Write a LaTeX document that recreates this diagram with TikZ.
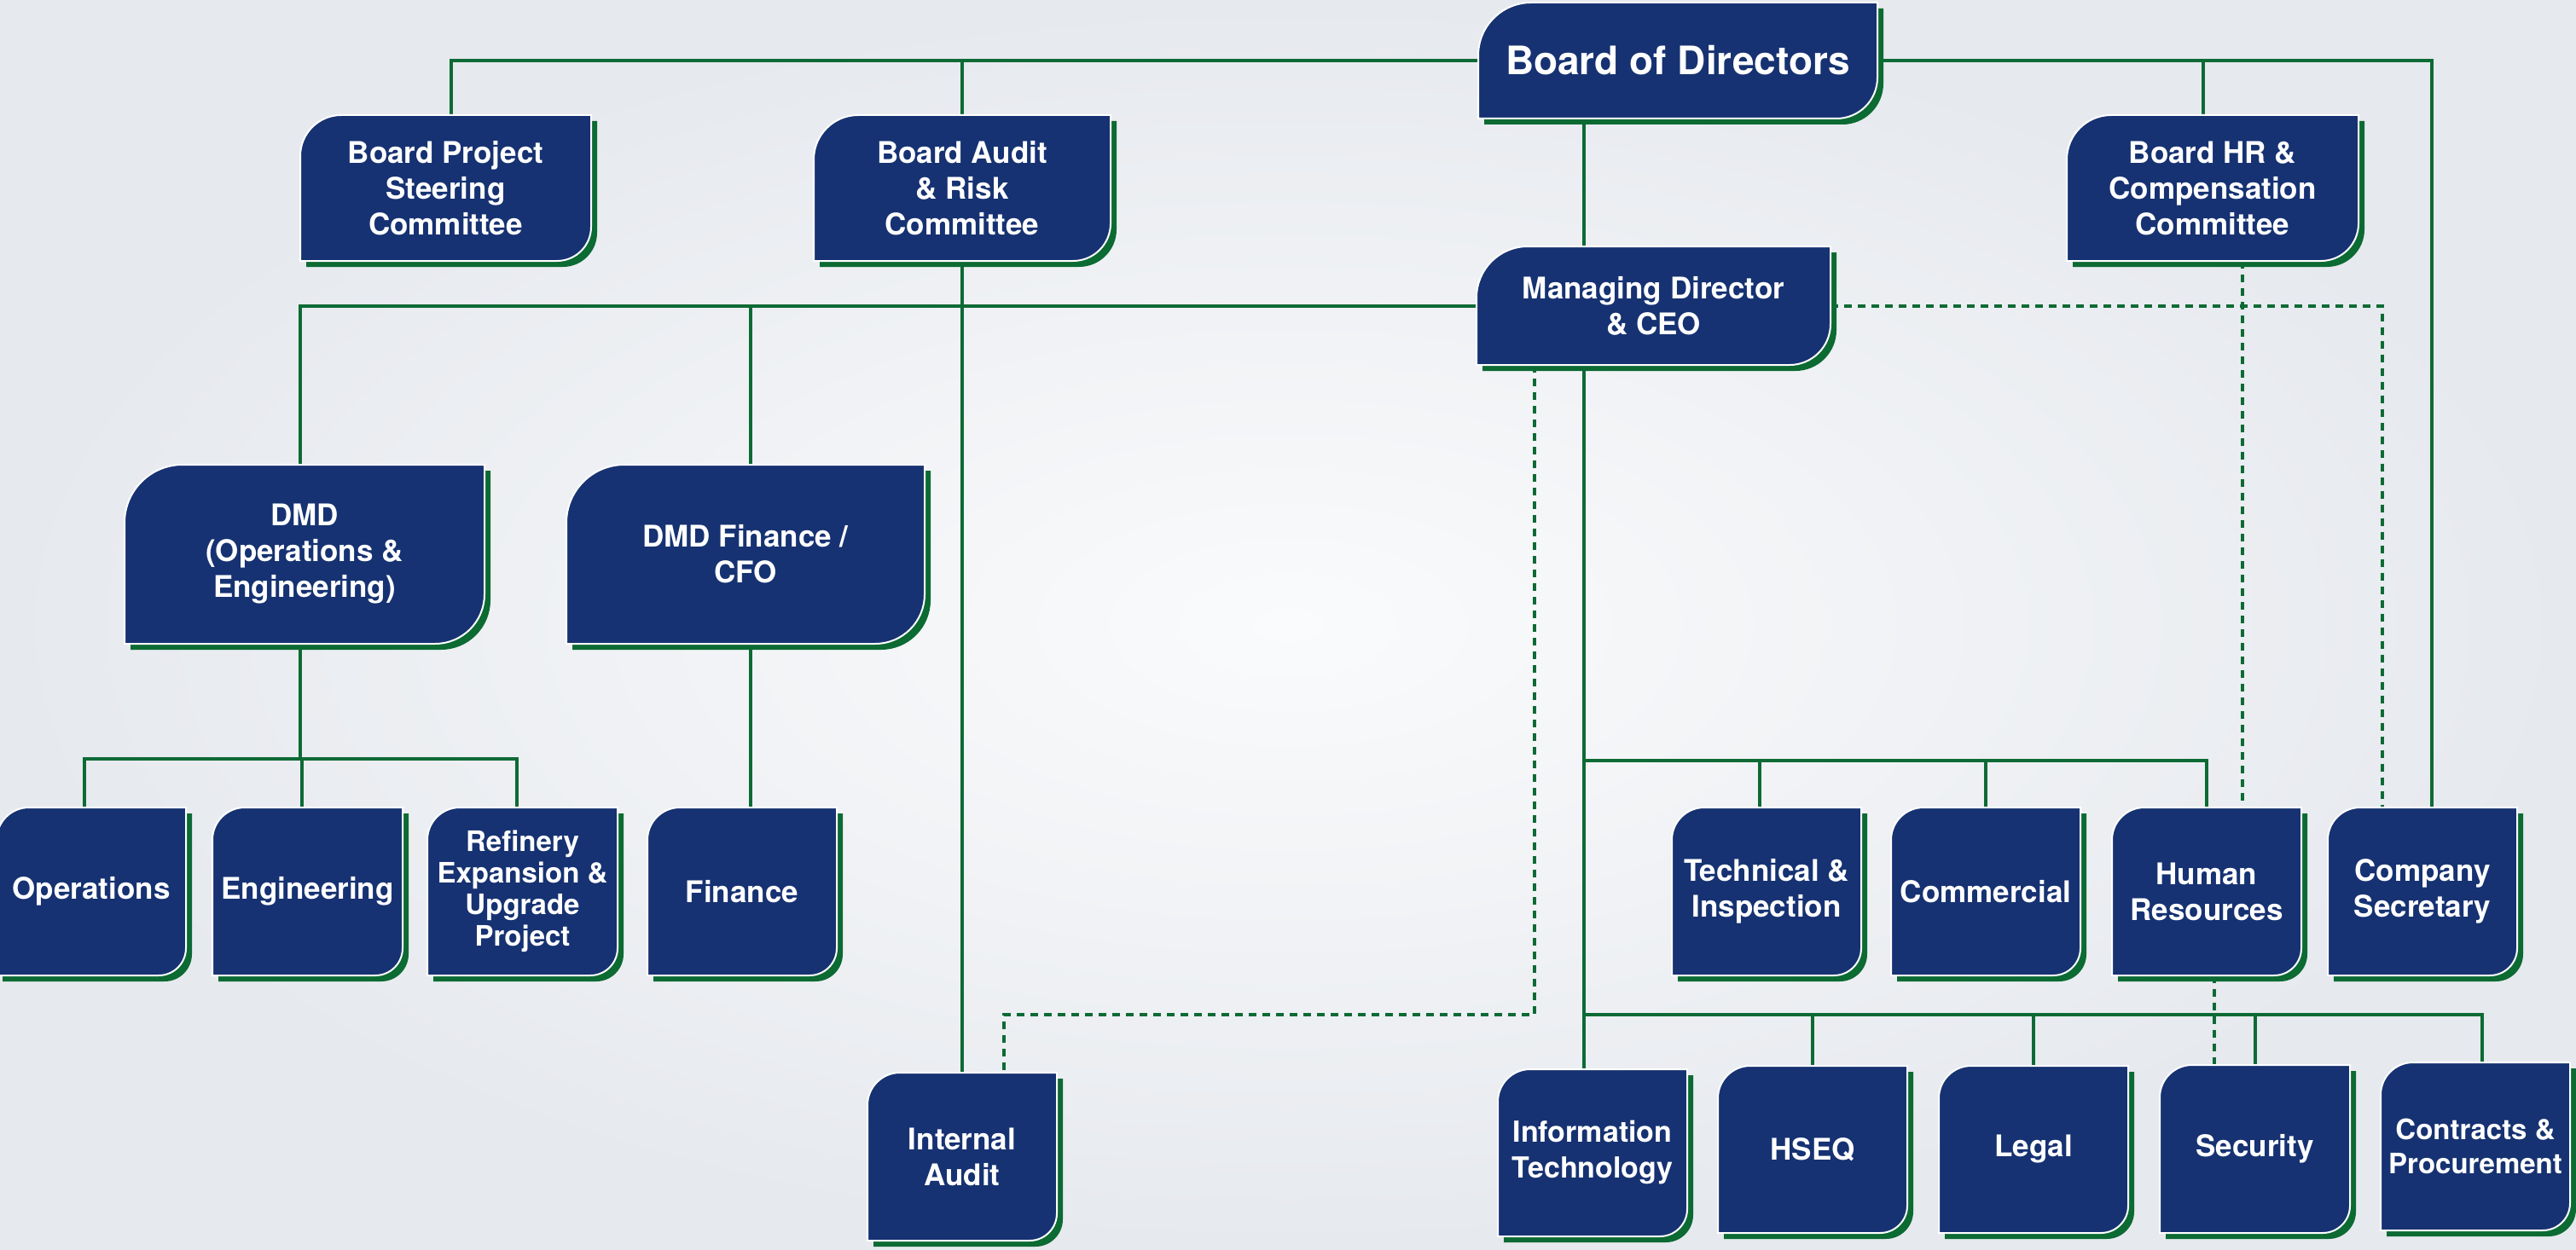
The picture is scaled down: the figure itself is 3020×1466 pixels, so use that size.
\documentclass[tikz,border=0pt]{standalone}
\usepackage{fontspec}
\setmainfont{TeX Gyre Heros}
\usetikzlibrary{calc}
\definecolor{navy}{HTML}{163272}
\definecolor{shadowc}{HTML}{0C6A33}
\definecolor{linec}{HTML}{0E6A35}
\definecolor{bgin}{HTML}{FAFBFC}
\definecolor{bgout}{HTML}{E6E9EE}
\pgfdeclarelayer{bg}
\pgfdeclarelayer{lines}
\pgfdeclarelayer{boxes}
\pgfsetlayers{bg,lines,boxes,main}
\tikzset{
  orgtxt/.style={inner sep=0pt, align=center, text=white,
    font=\fontsize{35}{42}\selectfont\bfseries},
  conn/.style={draw=linec, line width=4pt},
  dashconn/.style={draw=linec, line width=4pt, dash pattern=on 9pt off 7pt},
}
% #1 extra opts, #2 name, #3 x1, #4 y1, #5 x2, #6 y2, #7 rTL, #8 rBR, #9 text
\newcommand\orgbox[9][]{%
  \node[orgtxt, minimum width={(#5)-(#3)}, minimum height={(#6)-(#4)}, #1]
    (#2) at ({((#3)+(#5))/2},{((#4)+(#6))/2}) {#9};
  \begin{pgfonlayer}{boxes}
    \fill[shadowc, shift={(7,7)}] (#3,#6) -- (#3,{(#4)+(#7)})
      arc[start angle=180,end angle=90,radius=#7pt] -- (#5,#4) -- (#5,{(#6)-(#8)})
      arc[start angle=0,end angle=-90,radius=#8pt] -- cycle;
    \filldraw[fill=navy, draw=white, line width=2pt] (#3,#6) -- (#3,{(#4)+(#7)})
      arc[start angle=180,end angle=90,radius=#7pt] -- (#5,#4) -- (#5,{(#6)-(#8)})
      arc[start angle=0,end angle=-90,radius=#8pt] -- cycle;
  \end{pgfonlayer}
}
\begin{document}
\begin{tikzpicture}[x=1pt,y=-1pt]
\useasboundingbox (0,0) rectangle (3020,1466);
\begin{pgfonlayer}{bg}
  \shade[inner color=bgin, outer color=bgout] (0,0) rectangle (3020,1466);
\end{pgfonlayer}

\orgbox[font=\fontsize{46}{54}\selectfont\bfseries]{bod}{1733}{3}{2201}{139}{62}{48}{Board of Directors}
\orgbox{bpsc}{352}{135}{693}{306}{48}{40}{Board Project\\Steering\\Committee}
\orgbox{bara}{954}{135}{1302}{306}{52}{44}{Board Audit\\\& Risk\\Committee}
\orgbox{bhr}{2423}{135}{2765}{306}{52}{44}{Board HR \&\\Compensation\\Committee}
\orgbox{md}{1731}{289}{2146}{428}{60}{48}{Managing Director\\\& CEO}
\orgbox{dmdops}{146}{545}{568}{755}{68}{58}{DMD\\(Operations \&\\Engineering)}
\orgbox{dmdfin}{664}{545}{1084}{755}{68}{58}{DMD Finance /\\CFO}
\orgbox{ops}{-4}{947}{218}{1144}{38}{32}{Operations}
\orgbox{eng}{249}{947}{472}{1144}{38}{32}{Engineering}
\orgbox[font=\fontsize{33}{37}\selectfont\bfseries]{ref}{501}{947}{724}{1144}{38}{32}{Refinery\\Expansion \&\\Upgrade\\Project}
\orgbox{fin}{759}{947}{981}{1144}{38}{32}{Finance}
\orgbox{tech}{1960}{947}{2182}{1144}{38}{32}{Technical \&\\Inspection}
\orgbox{comm}{2217}{947}{2439}{1144}{38}{32}{Commercial}
\orgbox{hr}{2476}{947}{2698}{1144}{38}{32}{Human\\Resources}
\orgbox{cosec}{2729}{947}{2951}{1144}{38}{32}{Company\\Secretary}
\orgbox{ia}{1017}{1258}{1239}{1455}{38}{32}{Internal\\Audit}
\orgbox[font=\fontsize{34}{42}\selectfont\bfseries]{it}{1756}{1254}{1978}{1450}{38}{32}{Information\\Technology}
\orgbox{hseq}{2014}{1250}{2236}{1446}{38}{32}{HSEQ}
\orgbox{legal}{2273}{1250}{2495}{1446}{38}{32}{Legal}
\orgbox{sec}{2532}{1249}{2755}{1446}{38}{32}{Security}
\orgbox[font=\fontsize{33}{40}\selectfont\bfseries]{cp}{2791}{1246}{3013}{1443}{38}{32}{Contracts \&\\Procurement}

% helper coordinates
\coordinate (tx) at (1857,0);
\coordinate (ub) at (1857,892);
\coordinate (lb) at (1857,1190);
\coordinate (ob) at (352,890);
\coordinate (bpx) at ($(bpsc.north)+(6,0)$);
\coordinate (bhx) at ($(bhr.north)+(-11,0)$);
\coordinate (opx) at ($(ops.north)+(-8,0)$);
\coordinate (enx) at ($(eng.north)+(-7,0)$);
\coordinate (rfx) at ($(ref.north)+(-7,0)$);
\coordinate (dfx) at ($(dmdfin.north)+(6,0)$);
\coordinate (fnx) at ($(fin.north)+(10,0)$);
\coordinate (tcx) at ($(tech.north)+(-8,0)$);
\coordinate (cpx) at ($(cp.north)+(8,0)$);
\coordinate (csx) at ($(cosec.north)+(11,0)$);
\coordinate (csd) at ($(cosec.north)+(-47,0)$);
\coordinate (hrd) at ($(hr.north)+(42,0)$);
\coordinate (secd) at ($(sec.north)+(-48,0)$);
\coordinate (mdd) at ($(md.south west)+(68,0)$);
\coordinate (iad) at ($(ia.north)+(49,0)$);

\begin{pgfonlayer}{lines}
  % board level
  \draw[conn] (bod.west) -| (bpx);
  \draw[conn] (bara.north) -- (bara.north |- bod.west);
  \draw[conn] (bod.east) -| (csx);
  \draw[conn] (bhx) -- (bhx |- bod.east);
  \draw[conn] (bod.south -| tx) -- (md.north -| tx);
  % MD left
  \draw[conn] (md.west) -| (ob |- dmdops.north);
  \draw[conn] (dfx) -- (dfx |- md.west);
  % DMD ops
  \draw[conn] (ob |- dmdops.south) -- (ob);
  \draw[conn] (opx) |- (ob) -| (rfx);
  \draw[conn] (enx) -- (enx |- ob);
  % DMD fin
  \draw[conn] (fnx) -- (fnx |- dmdfin.south);
  % audit
  \draw[conn] (bara.south) -- (ia.north);
  % trunk
  \draw[conn] (md.south -| tx) -- (it.north -| tx);
  \draw[conn] (ub) -| (hr.north);
  \draw[conn] (tcx) -- (tcx |- ub);
  \draw[conn] (comm.north) -- (comm.north |- ub);
  \draw[conn] (lb) -| (cpx);
  \draw[conn] (hseq.north) -- (hseq.north |- lb);
  \draw[conn] (legal.north) -- (legal.north |- lb);
  \draw[conn] (sec.north) -- (sec.north |- lb);
  % dashed
  \draw[dashconn] (md.east) -| (csd);
  \draw[dashconn] (hrd |- bhr.south) -- (hrd);
  \draw[dashconn] (secd |- hr.south) -- (secd);
  \draw[dashconn] (mdd) -- (mdd |- lb) -| (iad);
\end{pgfonlayer}
\end{tikzpicture}
\end{document}
